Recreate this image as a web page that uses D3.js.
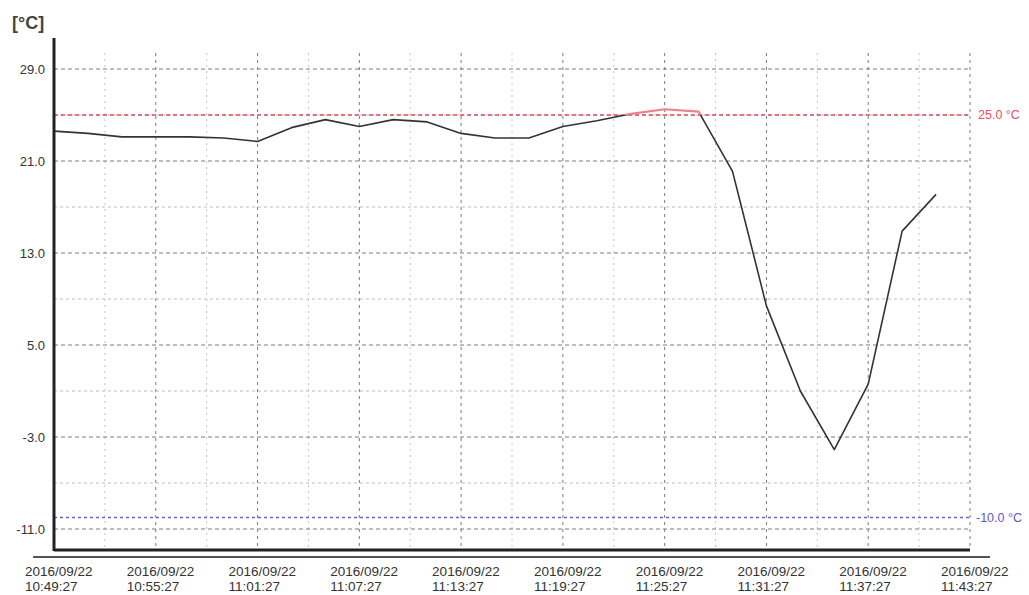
<!DOCTYPE html>
<html>
<head>
<meta charset="utf-8">
<script src="https://cdn.jsdelivr.net/npm/d3@7"></script>
<style>
  body { margin: 0; background: #fff; }
  svg { display: block; font-family: "Liberation Sans", Arial, sans-serif; }
</style>
</head>
<body>
<svg id="chart" width="1029" height="595"></svg>
<script>
// Readings, every 2 minutes
const times = [
  "10:49:27", "10:51:27", "10:53:27", "10:55:27", "10:57:27", "10:59:27",
  "11:01:27", "11:03:27", "11:05:27", "11:07:27", "11:09:27", "11:11:27",
  "11:13:27", "11:15:27", "11:17:27", "11:19:27", "11:21:27", "11:23:27",
  "11:25:27", "11:27:27", "11:29:27", "11:31:27", "11:33:27", "11:35:27",
  "11:37:27", "11:39:27", "11:41:27"
];
const temps = [
  23.6, 23.4, 23.1, 23.1, 23.1, 23.0,
  22.7, 23.9, 24.6, 24.0, 24.6, 24.4,
  23.4, 23.0, 23.0, 24.0, 24.5, 25.1,
  25.5, 25.3, 20.1, 8.4, 1.0, -4.1,
  1.6, 14.9, 18.1
];

// Axis ticks
const yMajor = [29, 21, 13, 5, -3, -11];
const yMinor = [25, 17, 9, 1, -7];
const xMajor = ["10:49:27", "10:55:27", "11:01:27", "11:07:27", "11:13:27",
  "11:19:27", "11:25:27", "11:31:27", "11:37:27", "11:43:27"];
const xMinor = ["10:52:27", "10:58:27", "11:04:27", "11:10:27", "11:16:27",
  "11:22:27", "11:28:27", "11:34:27", "11:40:27"];
const dateLabel = "2016/09/22";

// Limits
const upperLimit = 25.0;
const lowerLimit = -10.0;

const parse = t => new Date("2016-09-22T" + t);
const data = times.map((t, i) => ({ t: parse(t), v: temps[i] }));

const svg = d3.select("#chart");

const x = d3.scaleTime()
  .domain([parse(xMajor[0]), parse(xMajor[xMajor.length - 1])])
  .range([54, 970]);
const y = d3.scaleLinear()
  .domain([-11, 29])
  .range([529, 69]);

const left = x.range()[0], right = x.range()[1];
const gridTop = 53, axisTop = 38, axisBottom = 550;

// grid - vertical
svg.append("g").selectAll("line")
  .data(xMinor).enter().append("line")
  .attr("x1", d => x(parse(d))).attr("x2", d => x(parse(d)))
  .attr("y1", gridTop).attr("y2", axisBottom)
  .attr("stroke", "#c4c4c4").attr("stroke-width", 1)
  .attr("stroke-dasharray", "2,4");

svg.append("g").selectAll("line")
  .data(xMajor.slice(1)).enter().append("line")
  .attr("x1", d => x(parse(d))).attr("x2", d => x(parse(d)))
  .attr("y1", gridTop).attr("y2", axisBottom)
  .attr("stroke", "#7a7a7a").attr("stroke-width", 1)
  .attr("stroke-dasharray", "3,4");

// grid - horizontal
svg.append("g").selectAll("line")
  .data(yMinor).enter().append("line")
  .attr("x1", left).attr("x2", right)
  .attr("y1", d => y(d)).attr("y2", d => y(d))
  .attr("stroke", "#bdbdbd").attr("stroke-width", 1)
  .attr("stroke-dasharray", "3,3");

svg.append("g").selectAll("line")
  .data(yMajor).enter().append("line")
  .attr("x1", left).attr("x2", right)
  .attr("y1", d => y(d)).attr("y2", d => y(d))
  .attr("stroke", "#7a7a7a").attr("stroke-width", 1)
  .attr("stroke-dasharray", "4,3");

// limit lines
svg.append("line")
  .attr("x1", left).attr("x2", right)
  .attr("y1", y(upperLimit)).attr("y2", y(upperLimit))
  .attr("stroke", "#e0485a").attr("stroke-width", 1.3)
  .attr("stroke-dasharray", "4,3");
svg.append("line")
  .attr("x1", left).attr("x2", right)
  .attr("y1", y(lowerLimit)).attr("y2", y(lowerLimit))
  .attr("stroke", "#6464c8").attr("stroke-width", 1.6)
  .attr("stroke-dasharray", "3,3");

svg.append("text")
  .attr("x", 978).attr("y", y(upperLimit)).attr("dy", "0.35em")
  .attr("font-size", 12.5).attr("fill", "#e05060")
  .text(upperLimit.toFixed(1) + " °C");
svg.append("text")
  .attr("x", 976).attr("y", y(lowerLimit)).attr("dy", "0.35em")
  .attr("font-size", 12.5).attr("fill", "#5a5ac8")
  .text(lowerLimit.toFixed(1) + " °C");

// temperature line, red part above upper limit
const line = d3.line().x(d => x(d.t)).y(d => y(d.v));
const defs = svg.append("defs");
defs.append("clipPath").attr("id", "below")
  .append("rect").attr("x", 0).attr("y", y(upperLimit)).attr("width", 1029).attr("height", 595);
defs.append("clipPath").attr("id", "above")
  .append("rect").attr("x", 0).attr("y", 0).attr("width", 1029).attr("height", y(upperLimit));

svg.append("path").datum(data)
  .attr("d", line).attr("fill", "none")
  .attr("stroke", "#333").attr("stroke-width", 1.6)
  .attr("stroke-linejoin", "round")
  .attr("clip-path", "url(#below)");
svg.append("path").datum(data)
  .attr("d", line).attr("fill", "none")
  .attr("stroke", "#ee7f8c").attr("stroke-width", 2.2)
  .attr("stroke-linejoin", "round")
  .attr("clip-path", "url(#above)");

// axes
svg.append("line")
  .attr("x1", left).attr("x2", left)
  .attr("y1", axisTop).attr("y2", axisBottom + 1)
  .attr("stroke", "#222").attr("stroke-width", 3);
svg.append("line")
  .attr("x1", left).attr("x2", right)
  .attr("y1", axisBottom).attr("y2", axisBottom)
  .attr("stroke", "#222").attr("stroke-width", 3);
svg.append("line")
  .attr("x1", 33).attr("x2", 990)
  .attr("y1", axisBottom + 7).attr("y2", axisBottom + 7)
  .attr("stroke", "#555").attr("stroke-width", 1.8);

// y tick labels
svg.append("g").selectAll("text")
  .data(yMajor).enter().append("text")
  .attr("x", 45).attr("y", d => y(d)).attr("dy", "0.35em")
  .attr("text-anchor", "end")
  .attr("font-size", 13).attr("fill", "#333")
  .text(d => d.toFixed(1));

// x tick labels
const xl = svg.append("g").selectAll("text")
  .data(xMajor).enter().append("text")
  .attr("x", d => x(parse(d)) - 29)
  .attr("y", 576)
  .attr("font-size", 13.5).attr("fill", "#333");
xl.append("tspan").text(dateLabel);
xl.append("tspan")
  .attr("x", d => x(parse(d)) - 29).attr("dy", 15)
  .text(d => d);

// unit label
svg.append("text")
  .attr("x", 12).attr("y", 29)
  .attr("font-size", 18).attr("font-weight", "bold").attr("fill", "#444")
  .text("[°C]");
</script>
</body>
</html>
